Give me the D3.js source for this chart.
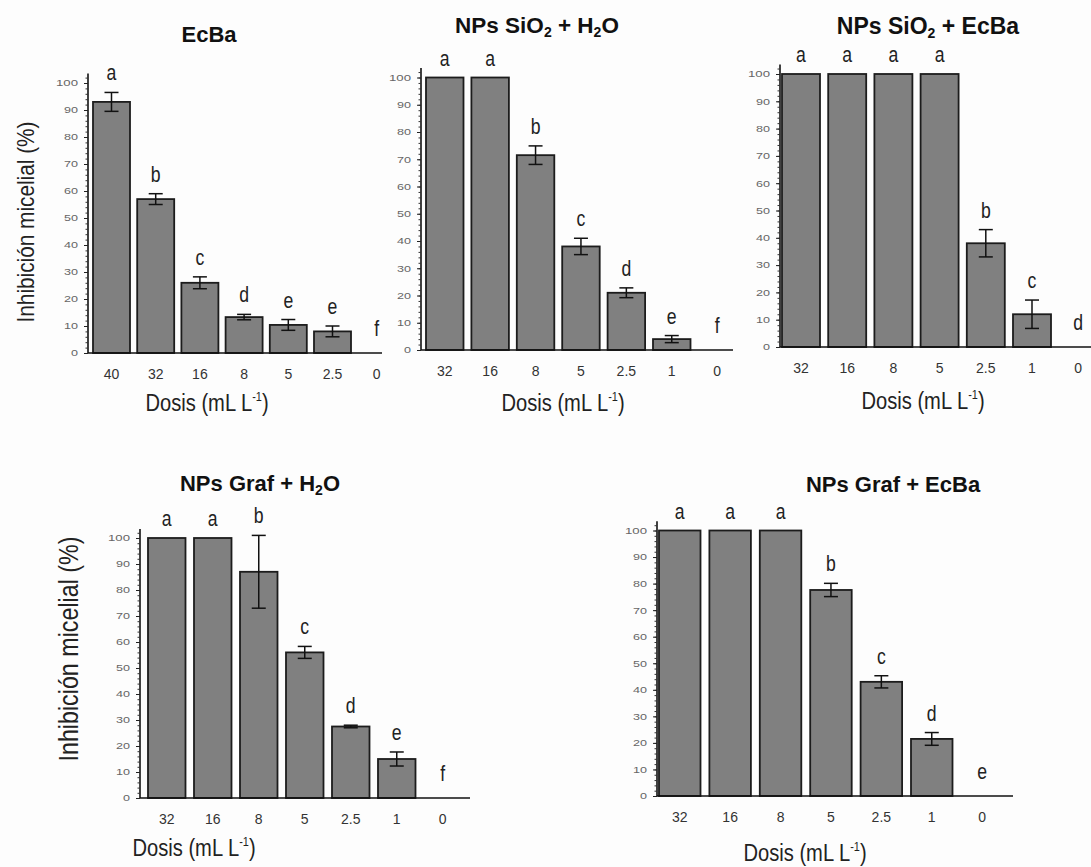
<!DOCTYPE html>
<html>
<head>
<meta charset="utf-8">
<script src="https://cdn.jsdelivr.net/npm/d3@7"></script>
<style>
  body { margin: 0; background: #fff; }
  svg { display: block; }
  text { font-family: "Liberation Sans", Arial, sans-serif; }
</style>
</head>
<body>
<svg id="chart" width="1091" height="867"></svg>
<script>
// --- data ---
const doses1 = ["40", "32", "16", "8", "5", "2.5", "0"];
const doses = ["32", "16", "8", "5", "2.5", "1", "0"];

const values1 = [93, 57, 26, 13.3, 10.4, 8, 0];
const errors1 = [3.5, 2, 2.2, 1, 2, 2, 0];
const letters1 = ["a", "b", "c", "d", "e", "e", "f"];

const values2 = [100, 100, 71.5, 38, 21, 4, 0];
const errors2 = [0, 0, 3.4, 3, 1.8, 1.3, 0];
const letters2 = ["a", "a", "b", "c", "d", "e", "f"];

const values3 = [100, 100, 100, 100, 38, 12, 0];
const errors3 = [0, 0, 0, 0, 5, 5.2, 0];
const letters3 = ["a", "a", "a", "a", "b", "c", "d"];

const values4 = [100, 100, 87, 56, 27.5, 15, 0];
const errors4 = [0, 0, 14, 2.3, 0.5, 2.7, 0];
const letters4 = ["a", "a", "b", "c", "d", "e", "f"];

const values5 = [100, 100, 100, 77.6, 43, 21.5, 0];
const errors5 = [0, 0, 0, 2.5, 2.3, 2.4, 0];
const letters5 = ["a", "a", "a", "b", "c", "d", "e"];

// title pieces: [text, isSubscript]
const title1 = [["EcBa", 0]];
const title2 = [["NPs SiO", 0], ["2", 1], [" + H", 0], ["2", 1], ["O", 0]];
const title3 = [["NPs SiO", 0], ["2", 1], [" + EcBa", 0]];
const title4 = [["NPs Graf + H", 0], ["2", 1], ["O", 0]];
const title5 = [["NPs Graf + EcBa", 0]];

const yLabel = "Inhibición micelial (%)";
const yTicks = d3.range(0, 101, 10);

// --- layout of each panel (pixels) ---
const panels = [
  { title: title1, doses: doses1, values: values1, errors: errors1, letters: letters1,
    L: { ax: 88, axEnd: 382, y0: 353, y100: 83, x0: 93, step: 44.2, bw: 37, ts: 22,
         tx: 209, ty: 42, dx: 207, dy: 411, yl: { x: 26, y: 222, size: 24, w: 201 } } },
  { title: title2, doses: doses, values: values2, errors: errors2, letters: letters2,
    L: { ax: 421, axEnd: 733, y0: 350, y100: 77.5, x0: 426, step: 45.4, bw: 37.5, ts: 22.5,
         tx: 537, ty: 33, dx: 563, dy: 411 } },
  { title: title3, doses: doses, values: values3, errors: errors3, letters: letters3,
    L: { ax: 780, axEnd: 1091, y0: 347, y100: 74, x0: 782, step: 46.2, bw: 38, ts: 23,
         tx: 928, ty: 34, dx: 923, dy: 409 } },
  { title: title4, doses: doses, values: values4, errors: errors4, letters: letters4,
    L: { ax: 140, axEnd: 470, y0: 798, y100: 538, x0: 148, step: 46, bw: 37.5, ts: 22,
         tx: 260, ty: 491, dx: 194, dy: 856, yl: { x: 69, y: 649, size: 27, w: 225 } } },
  { title: title5, doses: doses, values: values5, errors: errors5, letters: letters5,
    L: { ax: 657, axEnd: 1013, y0: 796, y100: 530.5, x0: 659, step: 50.4, bw: 41.5, ts: 22,
         tx: 893, ty: 492, dx: 805, dy: 861 } }
];

const svg = d3.select("#chart");
svg.append("rect").attr("width", 1091).attr("height", 867).attr("fill", "#fdfdfd");

panels.forEach(function (p) {
  const L = p.L;
  const n = p.doses.length;
  const pad = 1 - L.bw / L.step;

  const x = d3.scaleBand()
    .domain(p.doses)
    .range([L.x0, L.x0 + L.step * (n - pad)])
    .paddingInner(pad)
    .paddingOuter(0);

  const y = d3.scaleLinear()
    .domain([0, 100])
    .range([L.y0, L.y100]);

  const g = svg.append("g");

  // bars
  g.selectAll("rect.bar")
    .data(p.values)
    .join("rect")
    .attr("class", "bar")
    .attr("x", (d, i) => x(p.doses[i]))
    .attr("y", d => y(d))
    .attr("width", x.bandwidth())
    .attr("height", d => y(0) - y(d))
    .attr("fill", "#808080")
    .attr("stroke", "#1c1c1c")
    .attr("stroke-width", 1.8);

  // error bars
  const eb = g.selectAll("g.err")
    .data(p.values.map((v, i) => ({ v: v, e: p.errors[i], k: p.doses[i] })).filter(d => d.e > 0))
    .join("g")
    .attr("class", "err")
    .attr("stroke", "#111")
    .attr("stroke-width", 1.5);
  eb.append("line")
    .attr("x1", d => x(d.k) + x.bandwidth() / 2)
    .attr("x2", d => x(d.k) + x.bandwidth() / 2)
    .attr("y1", d => y(d.v + d.e))
    .attr("y2", d => y(d.v - d.e));
  [1, -1].forEach(function (s) {
    eb.append("line")
      .attr("x1", d => x(d.k) + x.bandwidth() / 2 - 7)
      .attr("x2", d => x(d.k) + x.bandwidth() / 2 + 7)
      .attr("y1", d => y(d.v + s * d.e))
      .attr("y2", d => y(d.v + s * d.e));
  });

  // significance letters (narrowed glyphs)
  g.selectAll("text.letter")
    .data(p.letters)
    .join("text")
    .attr("class", "letter")
    .attr("transform", (d, i) => {
      const cx = x(p.doses[i]) + x.bandwidth() / 2;
      const cy = y(p.values[i] + p.errors[i]) - (p.values[i] === 0 ? 17 : 12);
      return `translate(${cx},${cy}) scale(0.8,1)`;
    })
    .attr("text-anchor", "middle")
    .attr("font-size", 22)
    .attr("fill", "#222")
    .text(d => d);

  // x axis
  g.append("line")
    .attr("x1", L.ax).attr("x2", L.axEnd)
    .attr("y1", y(0)).attr("y2", y(0))
    .attr("stroke", "#111").attr("stroke-width", 1.5);

  const xa = g.append("g")
    .attr("transform", `translate(0,${y(0)})`)
    .call(d3.axisBottom(x).tickSize(0).tickPadding(16));
  xa.select(".domain").remove();
  xa.selectAll("text")
    .attr("font-family", "'Liberation Sans', Arial, sans-serif")
    .attr("font-size", 14)
    .attr("fill", "#333");

  // y axis: line, minor ticks, major ticks
  g.append("line")
    .attr("x1", L.ax).attr("x2", L.ax)
    .attr("y1", y(0)).attr("y2", y(103.5))
    .attr("stroke", "#111").attr("stroke-width", 1.6);

  const minor = g.append("g")
    .attr("transform", `translate(${L.ax},0)`)
    .call(d3.axisLeft(y).tickValues(d3.range(0, 103, 2)).tickSize(2.5).tickFormat(""));
  minor.select(".domain").remove();
  minor.selectAll("line").attr("stroke", "#333").attr("stroke-width", 1);

  const ya = g.append("g")
    .attr("transform", `translate(${L.ax},0)`)
    .call(d3.axisLeft(y).tickValues(yTicks).tickSize(4).tickPadding(6));
  ya.select(".domain").remove();
  ya.selectAll("line").attr("stroke", "#222");
  ya.selectAll("text")
    .attr("font-family", "'Liberation Sans', Arial, sans-serif")
    .attr("font-size", 9)
    .attr("fill", "#666")
    .attr("textLength", d => d >= 100 ? 22 : (d === 0 ? 7 : 14))
    .attr("lengthAdjust", "spacingAndGlyphs");

  // title
  const t = g.append("text")
    .attr("x", L.tx).attr("y", L.ty)
    .attr("text-anchor", "middle")
    .attr("font-weight", "bold")
    .attr("font-size", L.ts)
    .attr("fill", "#111");
  p.title.forEach(function (s, i) {
    const prevSub = i > 0 && p.title[i - 1][1];
    t.append("tspan")
      .attr("font-size", s[1] ? 14 : L.ts)
      .attr("dy", s[1] ? 4 : (prevSub ? -4 : 0))
      .text(s[0]);
  });

  // x axis title
  const xt = g.append("text")
    .attr("transform", `translate(${L.dx},${L.dy}) scale(0.84,1)`)
    .attr("text-anchor", "middle")
    .attr("font-size", 24)
    .attr("fill", "#222");
  xt.append("tspan").text("Dosis (mL L");
  xt.append("tspan").attr("font-size", 13).attr("dy", -10).text("-1");
  xt.append("tspan").attr("dy", 10).text(")");

  // y axis title
  if (L.yl) {
    g.append("text")
      .attr("transform", `translate(${L.yl.x},${L.yl.y}) rotate(-90)`)
      .attr("text-anchor", "middle")
      .attr("dy", "0.35em")
      .attr("font-size", L.yl.size)
      .attr("fill", "#222")
      .attr("textLength", L.yl.w)
      .attr("lengthAdjust", "spacingAndGlyphs")
      .text(yLabel);
  }
});
</script>
</body>
</html>
